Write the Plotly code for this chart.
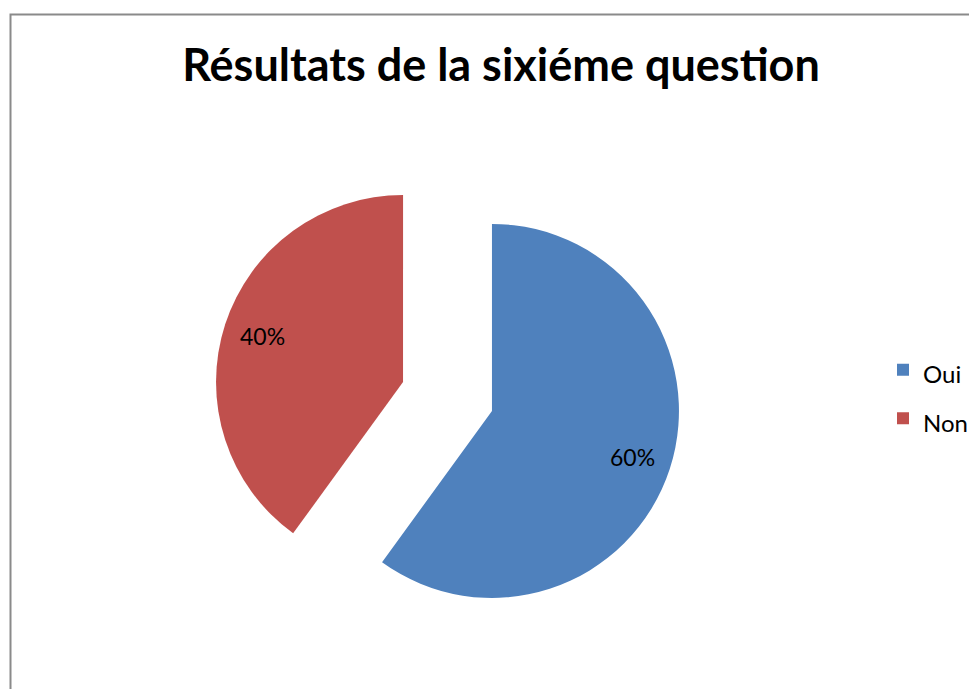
import math
import plotly.graph_objects as go

W, H = 977, 689

labels = ["Oui", "Non"]
values = [60, 40]
colors = ["#4F81BD", "#C0504D"]
pull = 0.25

title_text = "Résultats de la sixiéme question"

FONT = "Lato, Carlito, Calibri, sans-serif"

# the page body has an 8px margin, so pixel positions are shifted by it
OFF = 8
cx, cy, r = 447.5 - OFF, 396.5 - OFF, 187
half = r * (1 + pull)

# legend rows are spaced wide in the original; a large legend font sets the
# row height, while the visible label text is kept smaller via a span
legend_labels = [f"<span style='font-size:24px'>{l}</span>" for l in labels]

fig = go.Figure(
    go.Pie(
        labels=legend_labels,
        values=values,
        sort=False,
        direction="clockwise",
        rotation=0,
        pull=[pull] * len(values),
        marker=dict(colors=colors, line=dict(width=0)),
        textinfo="none",
        hoverinfo="percent",
        domain=dict(x=[(cx - half) / W, (cx + half) / W],
                    y=[1 - (cy + half) / H, 1 - (cy - half) / H]),
    )
)

# percentage labels placed further out along each slice's bisector, like Excel
total = sum(values)
cum = 0
for v in values:
    mid = (cum + v / 2) / total * 2 * math.pi
    dx, dy = math.sin(mid), -math.cos(mid)
    dist = r * (pull + 0.79)
    fig.add_annotation(
        x=(cx + dx * dist) / W,
        y=1 - (cy + dy * dist) / H,
        xref="paper",
        yref="paper",
        xanchor="center",
        yanchor="middle",
        text=f"{v / total:.0%}",
        showarrow=False,
        font=dict(family=FONT, size=23, color="black"),
    )
    cum += v

fig.update_layout(
    width=W,
    height=H,
    margin=dict(l=0, r=0, t=0, b=0),
    paper_bgcolor="white",
    plot_bgcolor="white",
    font=dict(family=FONT, color="black"),
    title=dict(
        text=f"<b>{title_text}</b>",
        x=(501 - OFF) / W,
        xanchor="center",
        y=1 - (65 - OFF) / H,
        yanchor="middle",
        font=dict(family=FONT, size=45, color="black"),
    ),
    legend=dict(
        x=(883 - OFF) / W,
        xanchor="left",
        y=1 - (394 - OFF) / H,
        yanchor="middle",
        font=dict(family=FONT, size=35, color="black"),
        bgcolor="rgba(0,0,0,0)",
    ),
    shapes=[
        dict(
            type="rect",
            xref="paper",
            yref="paper",
            x0=(10.5 - OFF) / W,
            x1=1.05,
            y0=-0.05,
            y1=1 - (14.5 - OFF) / H,
            line=dict(color="#8a8a8a", width=2),
            fillcolor="rgba(0,0,0,0)",
            layer="below",
        )
    ],
)

fig.write_html("out.html")
